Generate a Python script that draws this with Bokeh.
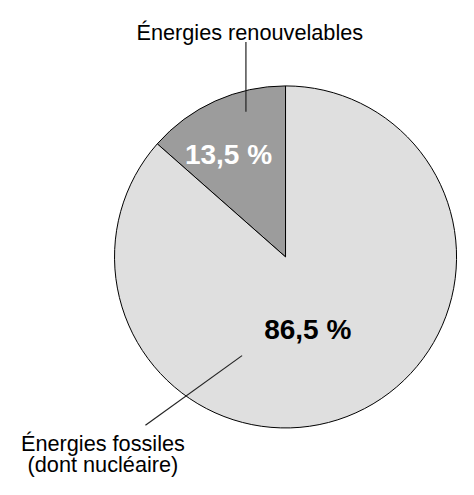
import math
from bokeh.plotting import figure
from bokeh.models import Range1d
from bokeh.core.properties import value
from bokeh.embed import file_html
from bokeh.resources import INLINE

# --- data ---
categories = ["Énergies renouvelables", "Énergies fossiles"]
shares = [13.5, 86.5]
share_labels = ["13,5 %", "86,5 %"]
colors = ["#9c9c9c", "#dfdfdf"]
label_colors = ["white", "black"]

# --- layout: data space is the 474x495 reference frame (y upward),
# drawn into a 458x479 figure so that it fits the window with its margins ---
W, H = 458, 479
XR, YR = 474, 495
k = W / XR
cx, cy, R = 295, 230, 177
FONT = "Liberation Sans"

p = figure(width=W, height=H, output_backend="svg", toolbar_location=None,
           x_range=Range1d(0, XR), y_range=Range1d(0, YR),
           min_border=0, outline_line_color=None)
p.axis.visible = False
p.grid.visible = False
p.background_fill_color = "white"
p.border_fill_color = "white"

total = sum(shares)
start = math.pi / 2
starts, ends = [], []
for s in shares:
    end = start + 2 * math.pi * s / total
    starts.append(start)
    ends.append(end)
    start = end

p.wedge(x=[cx] * len(shares), y=[cy] * len(shares), radius=R,
        start_angle=starts, end_angle=ends, direction="anticlock",
        fill_color=colors, line_color="black", line_width=1)

num_size = f"{29 * k:.1f}px"
lab_size = f"{22.5 * k:.1f}px"

p.text(x=[236, 318], y=[336, 155], text=share_labels,
       text_color=label_colors, text_font=value(FONT),
       text_font_style="bold", text_font_size=num_size,
       text_align="center", text_baseline="alphabetic")

p.line(x=[254, 254], y=[452, 380], line_color="#222222", line_width=1.2)
p.line(x=[150, 250], y=[56, 128], line_color="#222222", line_width=1.2)

p.text(x=[258], y=[462], text=[categories[0]], text_color="black",
       text_font=value(FONT), text_font_size=lab_size,
       text_align="center", text_baseline="alphabetic")
p.text(x=[106, 106], y=[37, 15], text=[categories[1], "(dont nucléaire)"],
       text_color="black", text_font=value(FONT), text_font_size=lab_size,
       text_align="center", text_baseline="alphabetic")

open("out.html", "w").write(file_html(p, INLINE))
